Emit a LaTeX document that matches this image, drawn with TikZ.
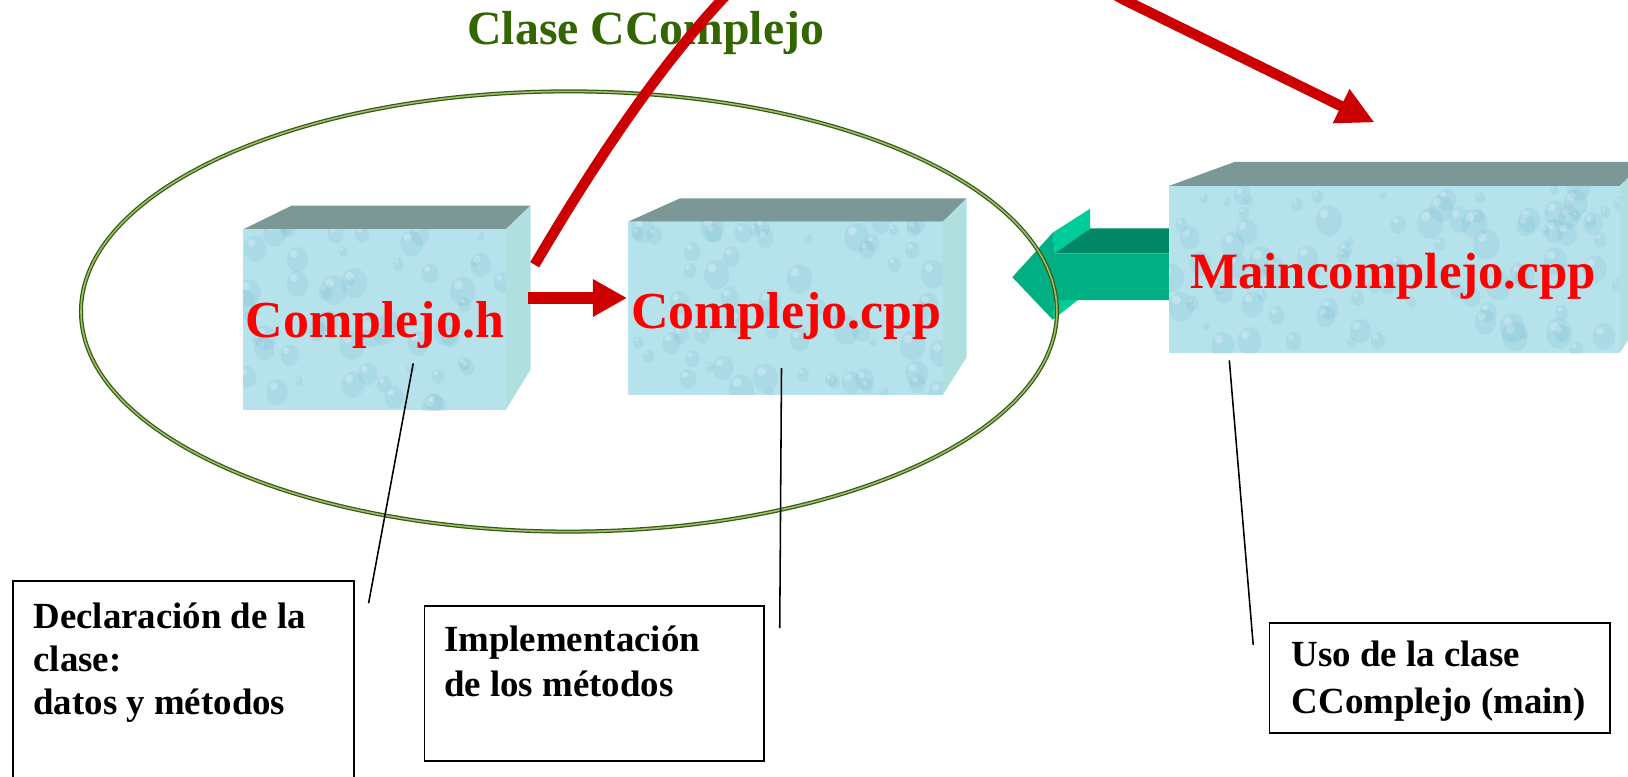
\documentclass[tikz,border=0pt]{standalone}
\usepackage{fontspec}
\setmainfont{Liberation Serif}
\usetikzlibrary{arrows.meta}
\definecolor{redarr}{HTML}{CC0000}
\definecolor{labred}{HTML}{FF0000}
\definecolor{titgreen}{HTML}{336600}
\definecolor{ellc}{HTML}{2E5E0A}
\definecolor{ellin}{HTML}{A8B878}
\definecolor{topc}{HTML}{7B9896}
\definecolor{sidec}{HTML}{B0DFE0}
\definecolor{frontc}{HTML}{B6E2EB}
\definecolor{dropc}{HTML}{6FB4CC}
\definecolor{garfront}{HTML}{00B084}
\definecolor{gardark}{HTML}{008866}
\definecolor{garlight}{HTML}{00CC99}
\tikzset{
  face/.style={rectangle, fill=frontc, inner sep=0pt, outer sep=0pt},
  lbl/.style={text=labred, font=\bfseries\fontsize{50}{60}\selectfont, inner sep=0pt},
  btxt/.style={text=black, font=\bfseries\fontsize{35.5}{42}\selectfont, inner sep=0pt},
  tbox/.style={rectangle, draw=black, line width=1.6pt, fill=white, inner sep=0pt},
  leader/.style={draw=black, line width=1.5pt},
  redline/.style={draw=redarr, line width=10pt},
  ellstyle/.style={draw=ellc, double=ellin, double distance=1.5pt, line width=1.2pt},
}
\newcommand\mydroplets[5]{%
  \begin{scope}
    \clip (#1,#2) rectangle ++(#3,#4);
    \foreach \k in {1,...,#5}{
      \pgfmathsetmacro\dx{#1+rnd*#3}
      \pgfmathsetmacro\dy{#2+rnd*#4}
      \pgfmathsetmacro\dr{4+rnd*11}
      \fill[dropc, opacity=0.16] (\dx,\dy) ellipse [x radius=\dr*0.85, y radius=\dr];
      \fill[white, opacity=0.25] (\dx-\dr*0.3,\dy-\dr*0.45) circle [radius=\dr*0.3];
    }
  \end{scope}}
\begin{document}
\begin{tikzpicture}[x=1pt,y=-1pt]
\pgfmathsetseed{4242}
\useasboundingbox (0,0) rectangle (1568,748);
\clip (0,0) rectangle (1568,748);
\fill[white] (0,0) rectangle (1568,748);

% ---------- green block arrow ----------
\fill[garlight] (1014,224) -- (1050,201) -- (1050,220) -- (1016,244) -- cycle;
\fill[gardark] (1016,244) -- (1050,220) -- (1130,220) -- (1130,244) -- cycle;
\fill[garlight] (1014,308) -- (1016,289) -- (1038,289) -- cycle;
\fill[garfront] (975,267) -- (1014,224) -- (1016,244) -- (1130,244) -- (1130,289) -- (1016,289) -- (1014,308) -- cycle;

% ---------- box 1 : Complejo.h ----------
\fill[topc] (234,221) -- (281,198) -- (511,198) -- (487,221) -- cycle;
\fill[sidec] (487,221) -- (511,198) -- (511,356) -- (487,395) -- cycle;
\node[face, minimum width=253pt, minimum height=174pt] (hbox) at (360.5,308) {};
\mydroplets{234}{221}{253}{174}{55}
\node[lbl, anchor=base] (hlab) at (361,325.5) {Complejo.h};

% ---------- box 2 : Complejo.cpp ----------
\fill[topc] (605,213.5) -- (655,191) -- (931,191) -- (908,213.5) -- cycle;
\fill[sidec] (908,213.5) -- (931,191) -- (931,344) -- (908,380.4) -- cycle;
\node[face, minimum width=303pt, minimum height=166.9pt] (cbox) at (756.5,296.95) {};
\mydroplets{605}{213.5}{303}{166.9}{65}
\node[lbl, anchor=base] (clab) at (757.3,316) {Complejo.cpp};

% ---------- box 3 : Maincomplejo.cpp ----------
\fill[topc] (1126,179) -- (1189,156) -- (1600,156) -- (1560,179) -- cycle;
\fill[sidec] (1560,179) -- (1584,156) -- (1584,303) -- (1560,340) -- cycle;
\node[face, minimum width=434pt, minimum height=161pt] (mbox) at (1343,259.5) {};
\mydroplets{1126}{179}{434}{161}{90}
\node[lbl, anchor=base, font=\bfseries\fontsize{49}{58}\selectfont] (mlab) at (1341.7,277.6) {Maincomplejo.cpp};

% ---------- ellipse ----------
\draw[ellstyle] (548,300) ellipse [x radius=470, y radius=212];

% ---------- title ----------
\node[anchor=base west, inner sep=0pt, text=titgreen, font=\bfseries\fontsize{46}{55}\selectfont] (ttl) at (450,43) {Clase CComplejo};

% ---------- red arrows ----------
\coordinate (a1) at (509,287);
\coordinate (a2) at (604,287);
\draw[redline, line width=12pt, -{Triangle[length=33pt,width=34pt]}] (a1) -- (a2);
\coordinate (cs) at (515,255);
\coordinate (ce) at (1324,118);
\draw[redline, -{Triangle[length=36pt,width=34pt]}] (cs) .. controls (600,110) and (740,-100) .. (860,-100)
   .. controls (960,-100) and (1030,-28) .. (1083,0) -- (ce);

% ---------- text boxes ----------
\node[tbox, minimum width=328pt, minimum height=230pt, anchor=north west] (decl) at (12,559) {};
\node[btxt, anchor=base west] (d1) at (32,605) {Declaración de la};
\node[btxt, anchor=base west] (d2) at (32,647) {clase:};
\node[btxt, anchor=base west] (d3) at (32,688.6) {datos y métodos};

\node[tbox, minimum width=327pt, minimum height=149pt, anchor=north west] (impl) at (408,583) {};
\node[btxt, anchor=base west] (i1) at (427.5,627.6) {Implementación};
\node[btxt, anchor=base west] (i2) at (427.5,671) {de los métodos};

\node[tbox, minimum width=328pt, minimum height=106pt, anchor=north west] (uso) at (1222,599) {};
\node[btxt, anchor=base west] (u1) at (1244,642) {Uso de la clase};
\node[btxt, anchor=base west] (u2) at (1244,687) {CComplejo (main)};

% ---------- leader lines ----------
\coordinate (l1a) at (398,350);
\coordinate (l1b) at (355,581);
\coordinate (l2a) at (752.7,354.5);
\coordinate (l2b) at (751,605);
\coordinate (l3a) at (1184,347);
\coordinate (l3b) at (1207,621);
\draw[leader] (l1a) -- (l1b);
\draw[leader] (l2a) -- (l2b);
\draw[leader] (l3a) -- (l3b);
\end{tikzpicture}
\end{document}
